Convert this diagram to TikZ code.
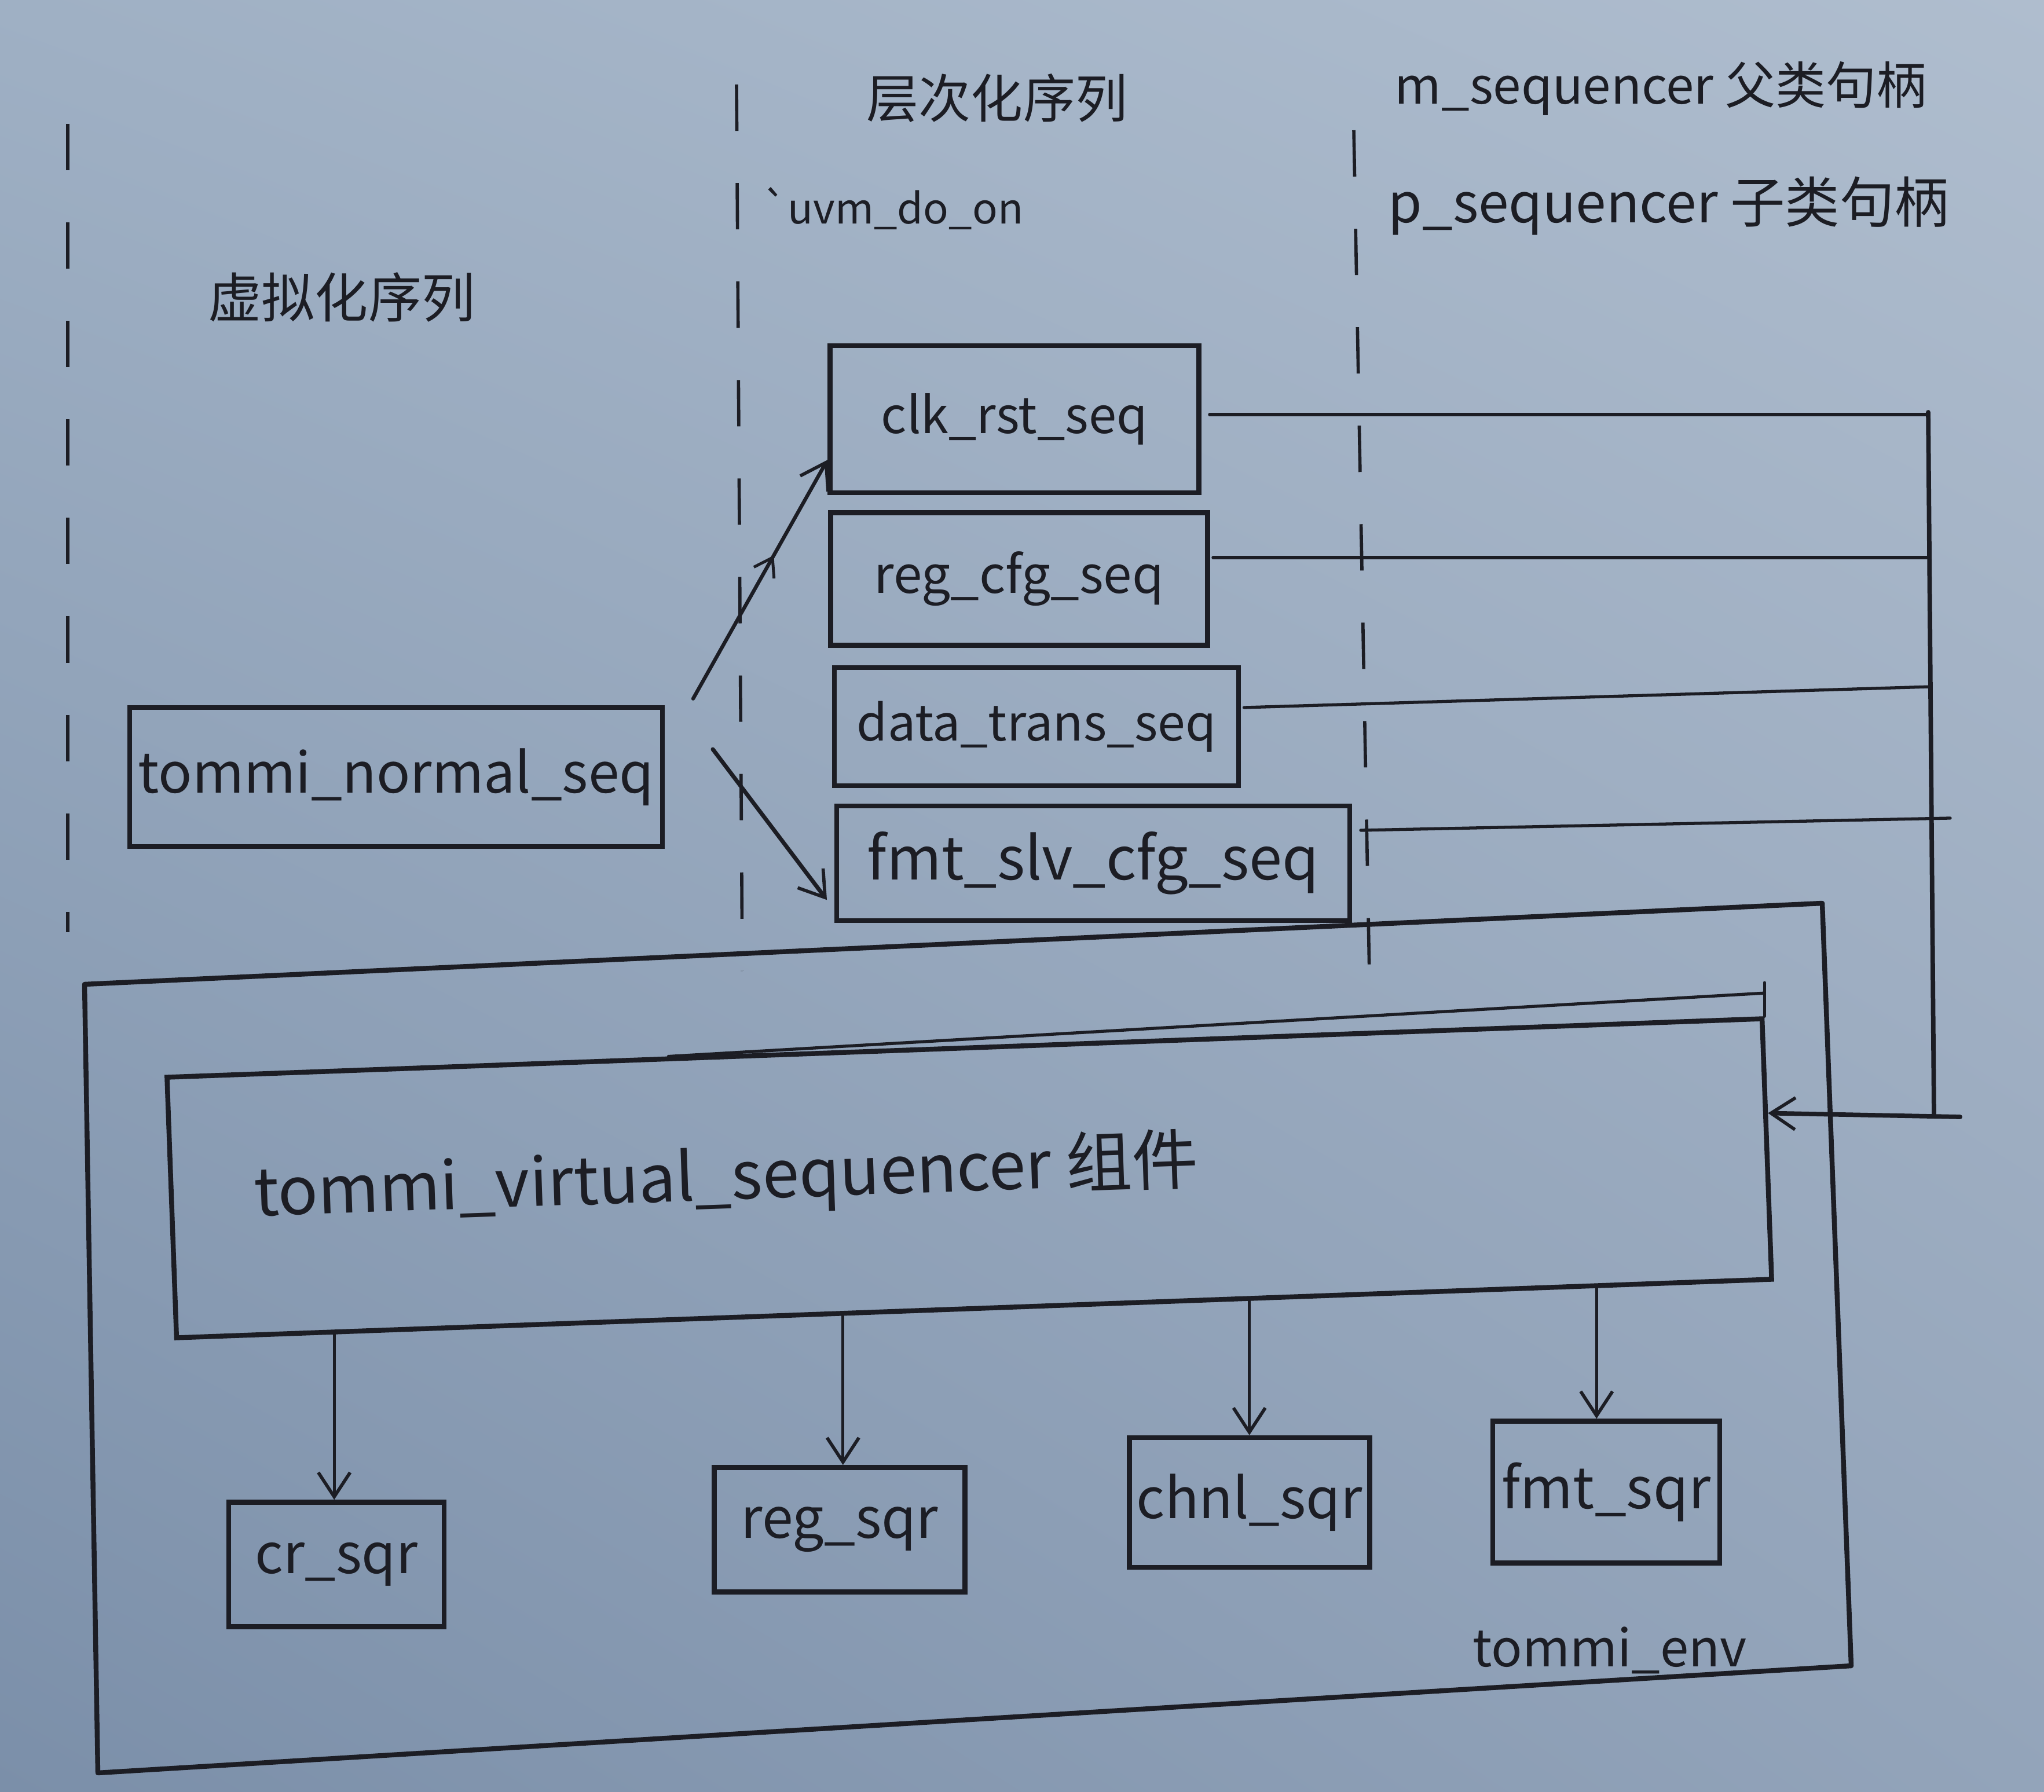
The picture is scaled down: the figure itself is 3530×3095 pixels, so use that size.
\documentclass[tikz,border=0pt]{standalone}
\usepackage{fontspec}
\setmainfont{Noto Sans CJK SC}
\usepackage{graphicx}
\usetikzlibrary{arrows.meta,calc,decorations.markings,shadings}
\definecolor{inkc}{HTML}{1C1D24}
\definecolor{bgUL}{HTML}{9FB0C4}
\definecolor{bgUR}{HTML}{AFBDCE}
\definecolor{bgLL}{HTML}{7B8FA9}
\definecolor{bgLR}{HTML}{93A4BA}
\newcommand{\hw}[2]{\resizebox{#1}{!}{#2}}
\begin{document}
\begin{tikzpicture}[x=0.01cm,y=-0.01cm,
  ink/.style={draw=inkc, line width=2.2pt, line cap=round, line join=round},
  thinink/.style={draw=inkc, line width=1.5pt, line cap=round},
  seqbox/.style={draw=inkc, line width=2.4pt, inner sep=0pt, text=inkc},
  lbl/.style={text=inkc, inner sep=0pt},
  tip/.style={-{Straight Barb[length=0.42cm,width=0.55cm,line width=1.6pt]}},
  guide/.style={draw=inkc, line width=1.6pt, dash pattern=on 0.8cm off 0.9cm},
]
\useasboundingbox (0,0) rectangle (3530,3095);
\shade[upper left=bgUL, upper right=bgUR, lower left=bgLL, lower right=bgLR] (0,0) rectangle (3530,3095);

% dashed guide lines
\draw[guide] (117,214) -- (117,1610);
\draw[guide] (1272,146) -- (1282,1677);
\draw[guide] (2338,225) -- (2365,1688);

% headings
\node[lbl] (hier) at (1722,169) {\hw{4.5cm}{层次化序列}};
\node[lbl] (msq) at (2868,153) {\hw{9.18cm}{m\_sequencer 父类句柄}};
\node[lbl] (psq) at (2882,356) {\hw{9.68cm}{p\_sequencer 子类句柄}};
\node[lbl] (uvmdo) at (1542,360) {\hw{4.5cm}{\textasciigrave uvm\_do\_on}};
\node[lbl] (virt) at (590,513) {\hw{4.61cm}{虚拟化序列}};

% sequences
\node[seqbox, minimum width=6.37cm, minimum height=2.54cm] (clk) at (1752,724) {\hw{4.6cm}{clk\_rst\_seq}};
\node[seqbox, minimum width=6.51cm, minimum height=2.29cm] (reg) at (1760,1000) {\hw{5.0cm}{reg\_cfg\_seq}};
\node[seqbox, minimum width=6.98cm, minimum height=2.04cm] (dts) at (1790,1255) {\hw{6.2cm}{data\_trans\_seq}};
\node[seqbox, minimum width=8.85cm, minimum height=1.98cm] (fsc) at (1888,1491) {\hw{7.8cm}{fmt\_slv\_cfg\_seq}};
\node[seqbox, minimum width=9.19cm, minimum height=2.4cm] (ns) at (684,1342) {\hw{8.9cm}{tommi\_normal\_seq}};

% uvm_do_on arrows
\draw[ink, line width=1.8pt, tip,
  postaction={decorate, decoration={markings, mark=at position 0.6 with {\arrow{Straight Barb[length=0.3cm,width=0.4cm,line width=1.4pt]}}}}]
  ($(ns.north east)+(49,-11)$) -- ($(clk.south west)+(0,-61)$);
\draw[ink, line width=2pt, tip] ($(ns.east)+(83,-48)$) -- ($(fsc.south west)+(-13,-40)$);

% environment
\draw[ink, line width=2.4pt] (146,1700) -- (3147,1560) -- (3197,2877) -- (169,3062) -- cycle;
\node[lbl] (envl) at (2780,2850) {\hw{4.73cm}{tommi\_env}};

% virtual sequencer
\node[seqbox, rotate=2.1, minimum width=27.55cm, minimum height=4.5cm] (vs) at (1674,2035) {};
\node[lbl, rotate=2] (vsl) at (1254,2037) {\hw{16.3cm}{tommi\_virtual\_sequencer 组件}};
\draw[thinink] ($(vs.north west)!0.315!(vs.north east)$) -- ($(vs.north east)+(0,-40)$);
\draw[thinink] (vs.north east) -- ($(vs.north east)+(0,-58)$);

% sub-sequencers
\node[seqbox, minimum width=3.72cm, minimum height=2.15cm] (cr) at (581,2702) {\hw{2.8cm}{cr\_sqr}};
\node[seqbox, minimum width=4.33cm, minimum height=2.15cm] (rs) at (1450,2642) {\hw{3.4cm}{reg\_sqr}};
\node[seqbox, minimum width=4.15cm, minimum height=2.24cm] (ch) at (2158,2595) {\hw{3.9cm}{chnl\_sqr}};
\node[seqbox, minimum width=3.92cm, minimum height=2.45cm] (fs) at (2774,2577) {\hw{3.6cm}{fmt\_sqr}};

\coordinate (s1) at ($(vs.south west)!0.100!(vs.south east)$);
\coordinate (s2) at ($(vs.south west)!0.418!(vs.south east)$);
\coordinate (s3) at ($(vs.south west)!0.672!(vs.south east)$);
\coordinate (s4) at ($(vs.south west)!0.889!(vs.south east)$);
\draw[thinink, tip] (s1) -- (s1 |- cr.north);
\draw[thinink, tip] (s2) -- (s2 |- rs.north);
\draw[thinink, tip] (s3) -- (s3 |- ch.north);
\draw[thinink, tip] (s4) -- (s4 |- fs.north);

% p_sequencer handle bus
\coordinate (bt) at (3330,712);
\coordinate (bb) at (3340,1927);
\coordinate (b3) at (3335,1186);
\coordinate (b4) at (3368,1413);
\coordinate (vsin) at ($(vs.north east)!0.365!(vs.south east)$);
\draw[ink] (bt) -- (bb);
\draw[thinink] ($(clk.east)+(14,-8)$) coordinate (c1) -- (bt |- c1);
\draw[thinink] ($(reg.east)+(5,-37)$) coordinate (c2) -- (bt |- c2);
\draw[thinink] ($(dts.east)+(5,-33)$) -- (b3);
\draw[thinink] ($(fsc.east)+(15,-57)$) -- (b4);
\draw[ink, tip] ($(bb)+(45,2)$) -- (vsin);
\end{tikzpicture}
\end{document}
